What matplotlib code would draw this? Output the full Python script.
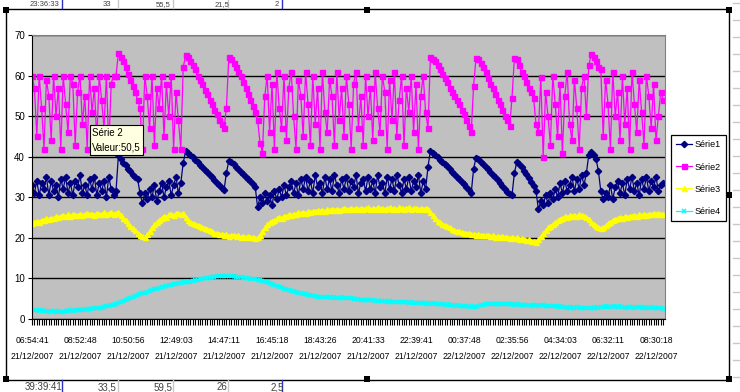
import numpy as np
import matplotlib
matplotlib.use('Agg')
import matplotlib.pyplot as plt
from matplotlib.lines import Line2D
from matplotlib.patches import Rectangle

plt.rcParams['font.family'] = ['Liberation Sans', 'DejaVu Sans']

# tick labels, one every 20 samples
time_labels = ['06:54:41', '08:52:48', '10:50:56', '12:49:03', '14:47:11', '16:45:18',
               '18:43:26', '20:41:33', '22:39:41', '00:37:48', '02:35:56', '04:34:03',
               '06:32:11', '08:30:18']
date_labels = ['21/12/2007'] * 9 + ['22/12/2007'] * 5
series_names = ['Série1', 'Série2', 'Série3', 'Série4']

serie1 = """
33.0 31.0 34.0 30.5 33.5 32.0 35.0 30.5 34.0 31.5
33.0 30.0 34.5 32.0 35.0 31.0 33.5 30.5 34.0 32.5
35.5 31.0 33.0 30.5 34.5 32.0 35.0 30.5 33.5 31.5
34.0 30.0 35.0 32.0 30.5 31.5
40.3 39.5 38.5 38.0 37.0 36.5 35.5 35.0 34.5 31.0
28.5 31.0 29.5 32.0 30.0 33.0 29.0 31.5 33.5 30.0 32.5 34.0 30.5 33.0 35.0 31.0 33.5
38.5 41.3 41.0 40.5 40.0 39.3 38.7 38.0 37.5 36.8
36.2 35.5 35.0 34.3 33.6 33.0 32.4 31.7 36.0 39.0
38.8 38.2 37.5 37.0 36.3 35.7 35.0 34.5 34.0 33.3
32.6 27.5
30.0 28.5 31.0 29.0 30.5 28.0 31.5 29.5 32.0 30.0
33.0 30.5 32.5 34.0 31.0 33.5 30.5 34.5 32.0 35.0
31.5 34.0 31.0 35.5 32.5 33.5 31.0 35.0 32.0 34.5
31.5 35.5 33.0 31.0 34.5 32.0 35.0 31.5 34.0 32.5
35.5 31.0 33.5 34.5 31.5 35.0 32.0 34.0 31.0 35.5
32.5 33.5 31.0 35.0 32.0 34.5 31.5 35.5 33.0 31.0
34.5 32.0 35.0 31.5 34.0 32.5 35.5 31.0 34.0 32.0
37.5
41.5 41.0 40.5 40.0 39.3 38.7 38.2 37.6 37.0 36.3
35.7 35.0 34.4 33.8 33.2 32.5 31.8 31.0
37.0 39.8 39.5 38.8 38.2 37.5 36.9 36.2 35.6 34.9
34.2 33.5 32.8 32.1 31.4 30.8
30.5 36.0 38.7 38.3 37.5 36.6 35.7 34.8 33.8 32.8
31.5 27.0
29.0 28.0 30.5 28.5 31.0 29.5 32.0 30.0 33.5 31.0
34.0 31.5 33.0 35.0 31.5 34.5 32.0 35.5 33.0
36.0 40.5 41.2 40.5 39.5 36.5 31.5
29.5 31.0 30.0 33.0 29.5 32.5 34.0 31.0
33.5 30.5 34.5 32.0 35.0 31.5 33.5 30.5 34.5 32.0
35.0 31.5 34.0 32.5 35.0 31.5 33.0 33.5
"""

serie2 = """
60 57 45 60 52 42 59 55 44 60
50 57 42 60 53 46 60 58 43 56
60 48 55 42 60 51 57 44 60 54
47 60 42 58 60 60
65.5 64.5 63.5 62 60.5 59 57.5 56 54 52
42 60 55 47 60 43 57 52 60 45 58 50 60 42 56 49 42
62 65 64.5 63.5 62.5 61.5 60 59 58 56.5
55.5 54 53 51.5 50.5 49 48 47
52 64.5 64 63 62 61 60 58.5 57 55.5
54 52.5 51 49
43.5 41 55 60 46 58 42 61 52 47
60 44 57 61 50 42 59 55 45 61
53 43 60 48 57 42 61 51 46 59
55 43 61 49 57 45 60 53 42 58
61 47 55 43 60 50 57 44 61 52
46 60 56 42 59 49 61 45 54 60
43 57 51 60 46 58 42 55 60 51
47
64.5 64 63.5 62.5 61.5 60.5 59.5 58.5 57 56
55 54 53 51.5 50.5 49 47.5 46
57.5 64.3 64 63 62 61 59.5 58 57 55.5
54 53 51.5 50 49 47.5
54.5 64.3 64 62.5 61 60 58.5 57 56 54.5
48 46 59.6 40 56 50 43 60 53 45
58 41 55 61 48 44 59 52 42 57
60 50
62.5 65.3 64.5 63.5 62 61.5
45 59 53 42 61 50 56 44
60 48 57 42 61 53 46 59 51 43
60 55 47 58 44 50 56 54
"""

serie3 = """
23.6 23.9 24.2 24.0 24.5 24.3 24.8 24.6 25.0 24.8
25.3 25.1 25.5 25.6 25.4 25.8 25.5 25.9 25.6 25.7
26.0 25.7 25.9 26.1 25.8 26.0 25.7 26.2 25.9 26.0
26.3 25.9 26.1 26.4 26.0 26.2 26.3 25.6 24.9 24.3
23.6 23.0 22.4 21.9 21.3 20.8 20.4 20.2 20.9 21.8
22.7 23.3 23.9 24.5 25.0 25.4 25.2 25.8 26.0 25.7
26.1 26.2 25.9 26.1 25.2 24.4 23.9 23.6 23.3 23.1
22.9 22.7 22.4 22.1 21.9 21.6 21.3 21.2 20.9 21.0
20.7 20.9 20.5 20.6 20.8 20.4 20.6 20.3 20.5 20.2
20.4 20.1 20.3 20.0 20.1 20.8 21.7 22.6 23.3 23.9
24.2 24.4 24.8 25.1 25.0 25.5 25.3 25.8 25.6 26.0
25.9 26.3 26.1 26.4 26.2 26.5 26.4 26.7 26.5 26.8
26.6 26.9 26.7 27.0 26.8 27.1 26.9 27.2 26.9 27.1
27.3 27.0 27.2 27.4 27.1 27.3 27.0 27.4 27.2 27.3
27.5 27.1 27.3 27.2 27.6 27.1 27.4 27.2 27.3 27.5
27.1 27.4 27.2 27.5 27.3 27.1 27.4 27.6 27.2 27.3
27.4 27.1 27.3 27.2 27.4 27.1 26.4 25.6 24.8 24.2
23.9 23.5 23.2 22.8 22.6 22.3 22.0 21.8 21.6 21.4
21.3 21.1 21.2 20.9 21.0 20.8 20.9 20.7 20.8 20.6
20.7 20.4 20.6 20.3 20.5 20.2 20.4 20.1 20.3 20.0
20.2 19.9 20.1 19.7 19.9 19.6 19.4 19.7 19.3 19.2
19.0 19.6 20.4 21.2 21.9 22.6 23.0 23.4 23.8 24.3
24.7 24.9 25.3 25.2 25.6 25.4 25.7 25.5 25.8 25.6
25.5 25.2 24.6 24.0 23.5 23.0 22.7 22.4 22.6 23.1
23.6 24.0 24.4 24.7 24.9 25.1 25.0 25.3 25.2 25.5
25.4 25.6 25.5 25.8 25.6 25.9 25.7 26.0 25.8 26.1
25.9 26.2 26.0 26.0
"""

serie4 = """
2.2 2.3 2.1 2.0 2.2 1.9 2.0 1.8 2.0 1.9
1.7 1.9 1.8 1.7 2.0 1.9 2.1 2.0 2.2 2.1
2.3 2.2 2.4 2.3 2.5 2.4 2.6 2.7 2.8 2.8
3.0 3.1 3.2 3.4 3.4 3.7 3.9 4.2 4.4 4.7
4.9 5.2 5.4 5.7 5.9 6.1 6.3 6.5 6.6 6.9
7.1 7.3 7.5 7.6 7.9 8.0 8.2 8.3 8.5 8.6
8.7 8.8 8.9 9.0 9.1 9.1 9.2 9.4 9.5 9.6
9.8 9.9 10.0 10.1 10.2 10.3 10.4 10.5 10.5 10.6
10.6 10.7 10.6 10.6 10.5 10.4 10.4 10.3 10.2 10.1
10.0 9.9 9.9 9.8 9.7 9.6 9.4 9.2 9.0 8.8
8.6 8.4 8.2 8.0 7.8 7.5 7.3 7.1 6.9 6.8
6.6 6.5 6.3 6.2 6.1 5.9 5.8 5.7 5.6 5.5
5.5 5.4 5.3 5.3 5.4 5.2 5.3 5.2 5.2 5.3
5.2 5.1 5.2 5.2 5.0 4.9 4.9 4.8 4.8 4.7
4.7 4.6 4.6 4.5 4.5 4.4 4.4 4.4 4.3 4.4
4.3 4.2 4.3 4.2 4.1 4.2 4.1 4.0 4.1 4.0
4.0 3.9 4.0 3.9 3.8 3.9 3.8 3.9 3.7 3.8
3.6 3.7 3.5 3.6 3.4 3.5 3.3 3.4 3.2 3.3
3.1 3.2 3.0 3.1 3.0 3.0 3.2 3.4 3.5 3.6
3.7 3.6 3.8 3.7 3.6 3.7 3.8 3.6 3.7 3.7
3.6 3.5 3.6 3.5 3.4 3.5 3.4 3.5 3.3 3.4
3.4 3.3 3.4 3.4 3.3 3.2 3.3 3.1 3.2 3.0
3.1 2.9 3.0 2.8 2.9 2.7 2.8 2.9 2.7 2.6
2.8 2.7 2.6 2.8 2.7 2.9 2.8 3.0 2.9 3.1
3.0 2.9 3.1 3.0 2.9 3.1 3.0 2.8 3.0 2.9
3.0 2.8 2.9 3.0 2.8 2.9 2.7 2.8 2.9 2.7
2.8 2.6 2.7 2.5
"""

# spreadsheet cells peeking out around the chart
top_row = ['23:36:33', '33', '55,5', '21,5', '2']
bottom_row = ['39:39:41', '33,5', '59,5', '26', '2,5']
tooltip_text = 'Série 2\nValeur:50,5'


def parse(block):
    return np.array(block.split(), dtype=float)


def main():
    values = [parse(serie1), parse(serie2), parse(serie3), parse(serie4)]
    n = len(values[0])
    x = np.arange(n)

    W, H = 740, 392
    fig = plt.figure(figsize=(W / 100, H / 100), dpi=100)
    fig.patch.set_facecolor('white')

    def fx(px):
        return px / W

    def fy(py):
        return 1 - py / H

    # sheet grid behind the chart
    for cx, col in [(62, '#3030c0'), (118, '#c8c8c8'), (173, '#c8c8c8'),
                    (228, '#c8c8c8'), (282, '#3030c0')]:
        fig.add_artist(Line2D([fx(cx), fx(cx)], [fy(0), fy(8)], color=col, lw=1))
        fig.add_artist(Line2D([fx(cx), fx(cx)], [fy(380), fy(392)], color=col, lw=1))
    for ry in range(3, 392, 17):
        fig.add_artist(Line2D([fx(733), fx(740)], [fy(ry), fy(ry)], color='#c8c8c8', lw=1))
    for cx, txt in zip([44, 107, 163, 222, 277], top_row):
        fig.text(fx(cx), fy(4.5), txt, fontsize=5.5, ha='center', va='center', color='#404040')
    for cx, txt in zip([44, 107, 163, 222, 277], bottom_row):
        fig.text(fx(cx), fy(387), txt, fontsize=7, ha='center', va='center', color='#404040')

    # chart area
    fig.add_artist(Rectangle((fx(6), fy(380)), fx(723), 371 / H, facecolor='white',
                             edgecolor='black', lw=1, zorder=1))
    for hx, hy in [(6, 10), (367, 10), (729, 10), (6, 379), (367, 379), (729, 379), (729, 195)]:
        fig.add_artist(Rectangle((fx(hx - 3), fy(hy + 3)), 6 / W, 6 / H,
                                 facecolor='black', edgecolor='none', zorder=5))

    ax = fig.add_axes([fx(32), fy(319), fx(633), 284 / H])
    ax.set_zorder(2)
    ax.set_facecolor('#c0c0c0')

    styles = [
        dict(color='#000080', marker='D', markersize=3.2),
        dict(color='#ff00ff', marker='s', markersize=3.6),
        dict(color='#ffff00', marker='^', markersize=3.6),
        dict(color='#00ffff', marker='x', markersize=3.2, markeredgewidth=1.2),
    ]
    for name, y, st in zip(series_names, values, styles):
        ax.plot(x, y, lw=0.9, label=name, **st)

    ax.set_xlim(0, 263.75)
    ax.set_ylim(0, 70)
    ax.set_yticks(range(0, 71, 10))
    ax.yaxis.grid(True, color='black', lw=1)
    ax.set_axisbelow(True)

    ax.set_xticks(np.arange(0, n, 20))
    ax.set_xticklabels([f'{t}\n{d}' for t, d in zip(time_labels, date_labels)],
                       fontsize=6.2, linespacing=2.1)
    ax.set_xticks(x, minor=True)
    ax.tick_params(axis='x', which='both', direction='out', length=4, width=0.8,
                   color='black', pad=8)
    ax.tick_params(axis='y', direction='out', length=3, labelsize=7, pad=2)

    for side in ['top', 'right']:
        ax.spines[side].set_color('#808080')
    ax.spines['left'].set_color('black')
    ax.spines['bottom'].set_color('black')

    leg = ax.legend(loc='upper left', bbox_to_anchor=((671 - 32) / 633, (319 - 135) / 284),
                    fontsize=6.5, frameon=True, fancybox=False, edgecolor='black',
                    framealpha=1, borderpad=0.6, borderaxespad=0, handlelength=1.7,
                    handletextpad=0.3, labelspacing=1.45)
    leg.get_frame().set_linewidth(0.9)

    # hover tooltip left on the screenshot
    fig.text(fx(92), fy(140), tooltip_text, fontsize=7, va='center', ha='left',
             linespacing=1.6, zorder=10,
             bbox=dict(boxstyle='square,pad=0.25', facecolor='#ffffe1', edgecolor='black', lw=0.8))

    fig.savefig('out.png', dpi=100)


if __name__ == '__main__':
    main()
